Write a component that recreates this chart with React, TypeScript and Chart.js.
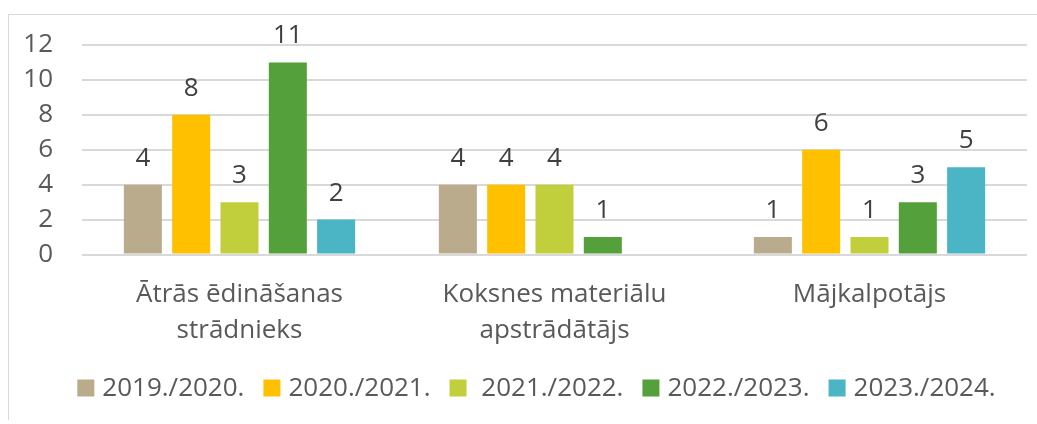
import React, { useEffect, useRef } from "react";
import { Chart, registerables } from "chart.js";

Chart.register(...registerables);

const categories = [
  ["Ātrās ēdināšanas", "strādnieks"],
  ["Koksnes materiālu", "apstrādātājs"],
  ["Mājkalpotājs"],
];
const seriesLabels = ["2019./2020.", "2020./2021.", " 2021./2022.", "2022./2023.", "2023./2024."];
const s2019 = [4, 4, 1];
const s2020 = [8, 4, 6];
const s2021 = [3, 4, 1];
const s2022 = [11, 1, 3];
const s2023 = [2, null, 5];
const seriesColors = ["#B9AB8B", "#FFC000", "#C2CF3C", "#54A03B", "#4BB5C6"];
const yMin = 0;
const yMax = 12;
const yStep = 2;

const FONT = "'Open Sans', 'DejaVu Sans', sans-serif";
const FS = 26;

const framePlugin = {
  id: "frame",
  beforeDraw(chart: any) {
    const ctx = chart.ctx;
    ctx.save();
    ctx.strokeStyle = "#d9d9d9";
    ctx.lineWidth = 1;
    ctx.beginPath();
    ctx.moveTo(8.5, 14);
    ctx.lineTo(8.5, 420);
    ctx.moveTo(8, 14.5);
    ctx.lineTo(1037, 14.5);
    ctx.stroke();
    ctx.restore();
  },
};

const dataLabelPlugin = {
  id: "dataLabels",
  afterDatasetsDraw(chart: any) {
    const ctx = chart.ctx;
    ctx.save();
    ctx.font = `${FS}px ${FONT}`;
    ctx.fillStyle = "#404040";
    ctx.textAlign = "center";
    ctx.textBaseline = "alphabetic";
    chart.data.datasets.forEach((ds: any, i: number) => {
      const meta = chart.getDatasetMeta(i);
      meta.data.forEach((bar: any, j: number) => {
        const v = ds.data[j];
        if (v === null || v === undefined) return;
        ctx.fillText(String(v), bar.x, bar.y - 19);
      });
    });
    ctx.restore();
  },
};

const legendPlugin = {
  id: "customLegend",
  afterDraw(chart: any) {
    const ctx = chart.ctx;
    ctx.save();
    ctx.font = `${FS}px ${FONT}`;
    const box = 17;
    const gap = 8;
    const pad = 19;
    const widths = seriesLabels.map((l) => ctx.measureText(l).width);
    const total = widths.reduce((a, w) => a + box + gap + w, 0) + pad * (seriesLabels.length - 1);
    let x = 536.5 - total / 2;
    const cy = 388;
    ctx.textBaseline = "middle";
    ctx.textAlign = "left";
    seriesLabels.forEach((l, i) => {
      ctx.fillStyle = seriesColors[i];
      ctx.fillRect(x, cy - box / 2, box, box);
      ctx.fillStyle = "#595959";
      ctx.fillText(l, x + box + gap, cy + 1);
      x += box + gap + widths[i] + pad;
    });
    ctx.restore();
  },
};

export default function App() {
  const ref = useRef<HTMLCanvasElement | null>(null);
  useEffect(() => {
    if (!ref.current) return;
    const series = [s2019, s2020, s2021, s2022, s2023];
    const chart = new Chart(ref.current, {
      type: "bar",
      data: {
        labels: categories as any,
        datasets: series.map((d, i) => ({
          label: seriesLabels[i],
          data: d as any,
          backgroundColor: seriesColors[i],
          borderWidth: 0,
          categoryPercentage: 0.767,
          barPercentage: 0.787,
        })),
      },
      options: {
        responsive: false,
        animation: false,
        layout: { padding: { top: 45, right: 10, left: 0, bottom: 0 } },
        plugins: {
          legend: { display: false },
          tooltip: { enabled: false },
        },
        scales: {
          x: {
            grid: { display: false, drawTicks: false },
            border: { display: false },
            ticks: {
              color: "#595959",
              font: { family: FONT, size: FS, lineHeight: 1.35 },
              padding: 23,
              maxRotation: 0,
              autoSkip: false,
            },
            afterFit(scale: any) {
              scale.height = 169.5;
            },
          },
          y: {
            min: yMin,
            max: yMax,
            grid: { color: "#d9d9d9", lineWidth: 2, drawTicks: false },
            border: { display: false },
            ticks: {
              stepSize: yStep,
              color: "#595959",
              font: { family: FONT, size: FS },
              padding: 29,
            },
            afterFit(scale: any) {
              scale.width = 82;
            },
          },
        },
      },
      plugins: [framePlugin, dataLabelPlugin, legendPlugin],
    });
    return () => chart.destroy();
  }, []);
  return (
    <div style={{ position: "fixed", left: 0, top: 0, width: 1037, height: 424, background: "#fff" }}>
      <canvas ref={ref} width={1037} height={424} style={{ display: "block" }} />
    </div>
  );
}
